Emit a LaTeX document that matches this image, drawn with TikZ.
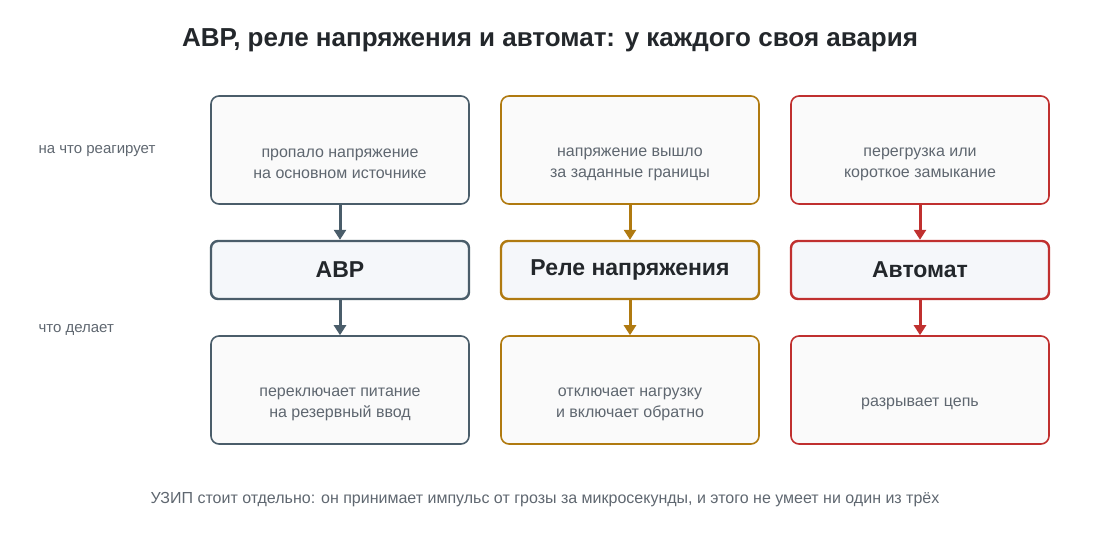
\documentclass[tikz,border=0pt]{standalone}
\usepackage{fontspec}
\setmainfont{Liberation Sans}
\usetikzlibrary{arrows.meta}
\definecolor{abrcol}{HTML}{4A5D6A}
\definecolor{relecol}{HTML}{B07A10}
\definecolor{avtcol}{HTML}{C0302F}
\definecolor{textgrey}{HTML}{5F6770}
\definecolor{titlecol}{HTML}{23272B}
\definecolor{boxfill}{HTML}{FAFAFA}
\definecolor{devfill}{HTML}{F5F7FA}
\begin{document}
\begin{tikzpicture}[%
        x = 1pt,
        y = -1pt,
        line cap = round,
        > = {Triangle[length=10pt,width=12pt]},
        infobox/.style = {draw, line width=1.6pt, rounded corners=8pt, fill=boxfill,
            minimum width=258pt, minimum height=108pt},
        infotext/.style = {align=center, text=textgrey, font=\fontsize{16}{21}\selectfont},
        devbox/.style = {draw, line width=2.4pt, rounded corners=7pt, fill=devfill,
            minimum width=258pt, minimum height=58pt,
            text=titlecol, font=\fontsize{23}{27}\bfseries},
        sidelabel/.style = {anchor=west, text=textgrey, font=\fontsize{15}{18}\selectfont},
        link/.style = {->, line width=3pt}
    ]

        \useasboundingbox (0, 0) rectangle (1100, 540);

        % Title.
        \node[text=titlecol, font=\fontsize{26}{31}\bfseries] (title) at (550, 40)
            {АВР, реле напряжения и автомат: у каждого своя авария};

        % Row labels on the left.
        \node[sidelabel] (react) at (35, 151) {на что реагирует};
        \node[sidelabel] (does) at (35, 330) {что делает};

        % Column of the ABR.
        \node[infobox, draw=abrcol] (abrcause) at (340, 150) {};
        \node[devbox, draw=abrcol] (abr) at (340, 270) {АВР};
        \node[infobox, draw=abrcol] (abraction) at (340, 390) {};

        % Column of the voltage relay.
        \node[infobox, draw=relecol] (relecause) at (630, 150) {};
        \node[devbox, draw=relecol] (rele) at (630, 270) {Реле напряжения};
        \node[infobox, draw=relecol] (releaction) at (630, 390) {};

        % Column of the breaker.
        \node[infobox, draw=avtcol] (avtcause) at (920, 150) {};
        \node[devbox, draw=avtcol] (avt) at (920, 270) {Автомат};
        \node[infobox, draw=avtcol] (avtaction) at (920, 390) {};

        % Texts sit a little below the middle of their boxes.
        \node[infotext] (abrcausetext) at ([yshift=-14pt]abrcause.center)
            {пропало напряжение\\на основном источнике};
        \node[infotext] (abractiontext) at ([yshift=-14pt]abraction.center)
            {переключает питание\\на резервный ввод};
        \node[infotext] (relecausetext) at ([yshift=-14pt]relecause.center)
            {напряжение вышло\\за заданные границы};
        \node[infotext] (releactiontext) at ([yshift=-14pt]releaction.center)
            {отключает нагрузку\\и включает обратно};
        \node[infotext] (avtcausetext) at ([yshift=-14pt]avtcause.center)
            {перегрузка или\\короткое замыкание};
        \node[infotext] (avtactiontext) at ([yshift=-14pt]avtaction.center)
            {разрывает цепь};

        % Arrows between the boxes.
        \draw[link, abrcol] (abrcause) -- (abr);
        \draw[link, abrcol] (abr) -- (abraction);
        \draw[link, relecol] (relecause) -- (rele);
        \draw[link, relecol] (rele) -- (releaction);
        \draw[link, avtcol] (avtcause) -- (avt);
        \draw[link, avtcol] (avt) -- (avtaction);

        % Note at the bottom.
        \node[text=textgrey, font=\fontsize{16}{20}\selectfont] (note) at (545, 500)
            {УЗИП стоит отдельно: он принимает импульс от грозы за микросекунды, и этого не умеет ни один из трёх};
    \end{tikzpicture}
\end{document}
